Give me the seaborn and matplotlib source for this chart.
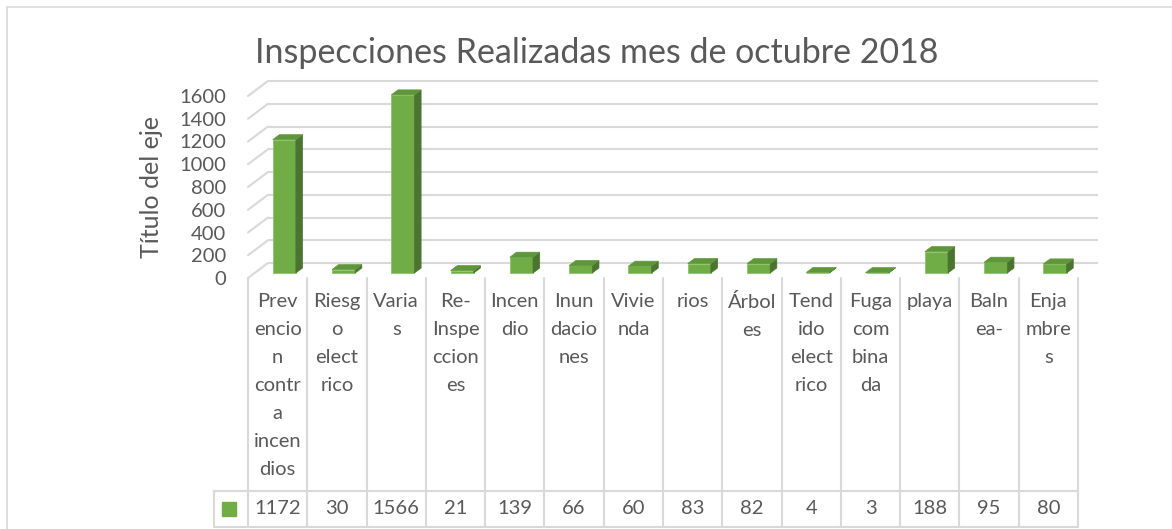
import numpy as np
import pandas as pd
import seaborn as sns
import matplotlib.pyplot as plt
from matplotlib.patches import Polygon
from matplotlib.lines import Line2D
from matplotlib.transforms import offset_copy, blended_transform_factory

# Data
categorias = ["Prevencion contra incendios", "Riesgo electrico", "Varias", "Re-Inspecciones",
              "Incendio", "Inundaciones", "Vivienda", "rios", "Árboles", "Tendido electrico",
              "Fuga combinada", "playa", "Balnea-", "Enjambres"]
# category labels wrapped the way the data table shows them
etiquetas = ["Prev\nencio\nn\ncontr\na\nincen\ndios", "Riesg\no\nelect\nrico", "Varia\ns",
             "Re-\nInspe\nccion\nes", "Incen\ndio", "Inun\ndacio\nnes", "Vivie\nnda", "rios",
             "Árbol\nes", "Tend\nido\nelect\nrico", "Fuga\ncom\nbina\nda", "playa", "Baln\nea-",
             "Enja\nmbre\ns"]
valores = [1172, 30, 1566, 21, 139, 66, 60, 83, 82, 4, 3, 188, 95, 80]
y_ticks = [0, 200, 400, 600, 800, 1000, 1200, 1400, 1600]

df = pd.DataFrame({"categoria": categorias, "valor": valores})

sns.set_theme(style="white")
plt.rcParams['font.family'] = ['Lato', 'DejaVu Sans']

GREEN = "#70AD47"
GREEN_SIDE = "#4B7430"
GREEN_TOP = "#5E9639"
GRID = "#D9D9D9"
TXT = "#595959"

W, H = 1172, 529
fig = plt.figure(figsize=(W / 100, H / 100), dpi=100)
fig.patch.set_facecolor("white")

# front plane of the 3D box, in pixels
left_px, right_px, top_px, bottom_px = 248, 1078, 96, 278
ax = fig.add_axes([left_px / W, 1 - bottom_px / H, (right_px - left_px) / W, (bottom_px - top_px) / H])
ax.set_facecolor("none")

n = len(valores)
ymax = y_ticks[-1]
ux = n / (right_px - left_px)          # data units per pixel, x
uy = ymax / (bottom_px - top_px)       # data units per pixel, y
depth_px = (20, 15)                    # depth of the 3D box in pixels
dxd, dyd = depth_px[0] * ux, depth_px[1] * uy

# bars
sns.barplot(data=df, x="categoria", y="valor", color=GREEN, saturation=1, width=0.39,
            ax=ax, edgecolor="#8CC46A", linewidth=0.6)
bar_tr = offset_copy(ax.transData, fig=fig, x=depth_px[0] / 3, y=depth_px[1] / 3, units='dots')
bdx, bdy = dxd / 3, dyd / 3
for p in ax.patches:
    p.set_transform(bar_tr)
    p.set_clip_on(False)
    p.set_zorder(3)
    x0 = p.get_x()
    x1 = x0 + p.get_width()
    h = p.get_height()
    side = Polygon([(x1, 0), (x1 + bdx, bdy), (x1 + bdx, h + bdy), (x1, h)], closed=True,
                   facecolor=GREEN_SIDE, edgecolor=GREEN_SIDE, lw=0.5, transform=bar_tr,
                   clip_on=False, zorder=3)
    top = Polygon([(x0, h), (x1, h), (x1 + bdx, h + bdy), (x0 + bdx, h + bdy)], closed=True,
                  facecolor=GREEN_TOP, edgecolor=GREEN_TOP, lw=0.5, transform=bar_tr,
                  clip_on=False, zorder=3)
    ax.add_patch(side)
    ax.add_patch(top)

ax.set_xlim(-0.5, n - 0.5)
ax.set_ylim(0, ymax)

# back wall gridlines and left wall lines
back_tr = offset_copy(ax.transData, fig=fig, x=depth_px[0], y=depth_px[1], units='dots')
ax.hlines(y_ticks, -0.5, n - 0.5, colors=GRID, lw=1.5, transform=back_tr, clip_on=False, zorder=1)
for v in y_ticks:
    ax.plot([-0.5, -0.5 + dxd], [v, v + dyd], color=GRID, lw=1.5, clip_on=False, zorder=1)

for s in ax.spines.values():
    s.set_visible(False)
ax.set_xticks([])
ax.set_xlabel("")
ax.set_ylabel("")
ax.set_yticks(y_ticks)
ax.set_yticklabels([str(v) for v in y_ticks])
ax.tick_params(axis='y', length=0, pad=15.5, labelsize=14.5, labelcolor=TXT)

# data table under the chart
tbl = blended_transform_factory(ax.transData, fig.transFigure)
def fy(px):
    return 1 - px / H

key_left = -0.5 - 34 * ux
row_top, row_mid, row_bot = 278, 491, 527
for k in range(n + 1):
    ax.plot([k - 0.5, k - 0.5], [fy(row_top), fy(row_bot)], color=GRID, lw=1.5,
            transform=tbl, clip_on=False)
ax.plot([key_left, key_left], [fy(row_mid), fy(row_bot)], color=GRID, lw=1.5, transform=tbl, clip_on=False)
for r in (row_mid, row_bot):
    ax.plot([key_left, n - 0.5], [fy(r), fy(r)], color=GRID, lw=1.5, transform=tbl, clip_on=False)

for i, (lab, val) in enumerate(zip(etiquetas, valores)):
    ax.text(i, fy(293), lab, transform=tbl, ha='center', va='top', ma='center',
            fontsize=14.5, color=TXT, linespacing=1.78)
    ax.text(i, fy(509), str(val), transform=tbl, ha='center', va='center',
            fontsize=14.5, color=TXT)
ax.plot([key_left + 15 * ux], [fy(509)], marker='s', markersize=10, color=GREEN,
        transform=tbl, clip_on=False, linestyle='none')

# titles
fig.text(597 / W, fy(53), "Inspecciones Realizadas mes de octubre 2018", ha='center', va='center',
         fontsize=24.5, color=TXT)
fig.text(152 / W, fy(187), "Título del eje", rotation=90, ha='center', va='center',
         fontsize=18, color=TXT)

# chart area border (cut off at right and bottom)
fig.add_artist(Line2D([7 / W, 7 / W], [fy(7), 0], color=GRID, lw=1.2, transform=fig.transFigure))
fig.add_artist(Line2D([7 / W, 1], [fy(7), fy(7)], color=GRID, lw=1.2, transform=fig.transFigure))

fig.savefig("out.png", dpi=100, facecolor="white")
